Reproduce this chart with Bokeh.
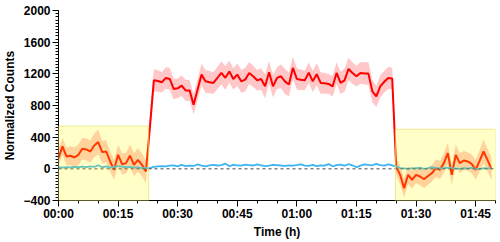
from bokeh.plotting import figure
from bokeh.models import ColumnDataSource, BoxAnnotation, Span, FixedTicker, Range1d
from bokeh.embed import file_html
from bokeh.resources import INLINE

# time in minutes since start
minutes = list(range(110))

# stimulated response (red) mean and error band half-width
red_mean = [135, 283, 156, 165, 143, 177, 253, 245, 219, 295, 338, 211, 219, 93, -13, 177, 59, 72, 168, 51, 114, 51, -34,
            520, 1118, 1110, 1093, 1148, 1135, 1009, 1017, 1051, 991, 991, 810, 1000, 1190, 1105, 1095, 1085, 1150,
            1211, 1150, 1230, 1135, 1190, 1105, 1127, 1211, 1169, 1118, 1135, 1042, 1219, 1042, 1148, 1169, 1105, 1065,
            1275, 1135, 1125, 1118, 1215, 1105, 1195, 1085, 1080, 1072, 1042, 1211, 1085, 1118, 1262, 1211, 1169, 1211,
            1205, 1203, 979, 915, 1042, 1100, 1148, 1140,
            29, -76, -245, -76, -139, -76, -97, -131, -90, -55, 8, -13, 72, 198, -76, 177, 72, 105, 93, 63, -13, 100, 219, 110, -4]
red_err = [110, 105, 115, 120, 125, 130, 135, 140, 140, 150, 155, 145, 140, 130, 125, 130, 135, 130, 140, 145, 150, 145, 145,
           130, 140, 135, 130, 135, 140, 130, 125, 130, 135,
           130, 125, 130, 140, 145, 140, 135, 140, 145, 150,
           140, 135, 140, 145, 150, 140, 135, 130, 140, 150,
           145, 140, 135, 150, 160, 150, 140, 135, 130, 125,
           130, 135, 140, 135, 130, 125, 130, 135, 140, 145,
           140, 135, 130, 135, 140, 145, 140, 135, 140, 135,
           140, 135,
           110, 115, 120, 115, 110, 105, 110, 115, 110, 105, 110, 115, 120, 130, 125, 130, 125, 120, 115, 120, 125, 135, 150, 145, 140]

# control (blue) mean
blue_mean = [20, 15, 22, 18, 25, 20, 28, 22, 30, 25, 45, 20, 30, 15, 25, 35, 28, 20, 25, 15, 20, 10, 12,
             10, 25, 30, 35, 30, 40, 45, 30, 50, 35,
             40, 38, 55, 40, 30, 45, 50, 42, 48, 65,
             35, 50, 45, 40, 52, 48, 42, 55, 45, 35,
             40, 50, 48, 42, 38, 45, 40, 48, 55, 40,
             38, 50, 35, 45, 40, 60, 32, 48, 52, 40,
             58, 45, 20, 40, 55, 50, 45, 62, 48, 40,
             55, 45,
             30, 10, 5, 0, 10, 5, 15, 0, 8, 20, 12, 5, 10, 15, 8, 5, 0, 10, 5, 12, 0, -5, 8, 5, 10]

x_ticks = [0, 15, 30, 45, 60, 75, 90, 105]
x_tick_labels = ["00:00", "00:15", "00:30", "00:45", "01:00", "01:15", "01:30", "01:45"]
y_ticks = [-400, 0, 400, 800, 1200, 1600, 2000]

# highlighted windows: (start, end, top)
pre_window = (0, 22.7, 540)
post_window = (84.8, 110, 500)

lower = [m - e for m, e in zip(red_mean, red_err)]
upper = [m + e for m, e in zip(red_mean, red_err)]
src = ColumnDataSource(dict(t=minutes, red=red_mean, lo=lower, hi=upper, blue=blue_mean))

p = figure(width=500, height=242, output_backend="svg", toolbar_location=None,
           x_range=Range1d(0, 110), y_range=Range1d(-400, 2000),
           min_border_left=58, min_border_right=5, min_border_top=10, min_border_bottom=42)
p.outline_line_color = None
p.grid.visible = False
p.background_fill_color = "white"

p.varea(x="t", y1="lo", y2="hi", source=src, fill_color="#ff0000", fill_alpha=0.22)
p.line(x="t", y="red", source=src, line_color="#ff0000", line_width=2)
p.add_layout(Span(location=0, dimension="width", line_color="#444444", line_width=1, line_dash="3 3"))
p.line(x="t", y="blue", source=src, line_color="#3db4f2", line_width=1.8)

for (a, b, top) in (pre_window, post_window):
    p.add_layout(BoxAnnotation(left=a, right=b, bottom=-400, top=top,
                               fill_color="#ffff00", fill_alpha=0.22,
                               line_color="#e6e070", line_alpha=0.7, line_width=1))

p.xaxis.ticker = FixedTicker(ticks=x_ticks, minor_ticks=list(range(0, 111, 5)))
p.xaxis.major_label_overrides = {t: l for t, l in zip(x_ticks, x_tick_labels)}
p.yaxis.ticker = FixedTicker(ticks=y_ticks, minor_ticks=list(range(-400, 2001, 40)))
p.xaxis.axis_label = "Time (h)"
p.yaxis.axis_label = "Normalized Counts"

for ax in (p.xaxis[0], p.yaxis[0]):
    ax.axis_line_color = "black"
    ax.axis_line_width = 1
    ax.major_tick_line_color = "black"
    ax.minor_tick_line_color = "black"
    ax.major_tick_out = 6
    ax.major_tick_in = 0
    ax.minor_tick_out = 3
    ax.minor_tick_in = 0
    ax.major_label_text_font = "Liberation Sans"
    ax.major_label_text_font_style = "bold"
    ax.major_label_text_font_size = "12px"
    ax.major_label_text_color = "black"
    ax.axis_label_text_font = "Liberation Sans"
    ax.axis_label_text_font_style = "bold"
    ax.axis_label_text_font_size = "12px"
    ax.axis_label_text_color = "black"

p.yaxis.major_label_standoff = 2
p.yaxis.axis_label_standoff = 3
p.xaxis.major_label_standoff = 0
p.xaxis.axis_label_standoff = 1

open("out.html", "w").write(file_html(p, INLINE))
